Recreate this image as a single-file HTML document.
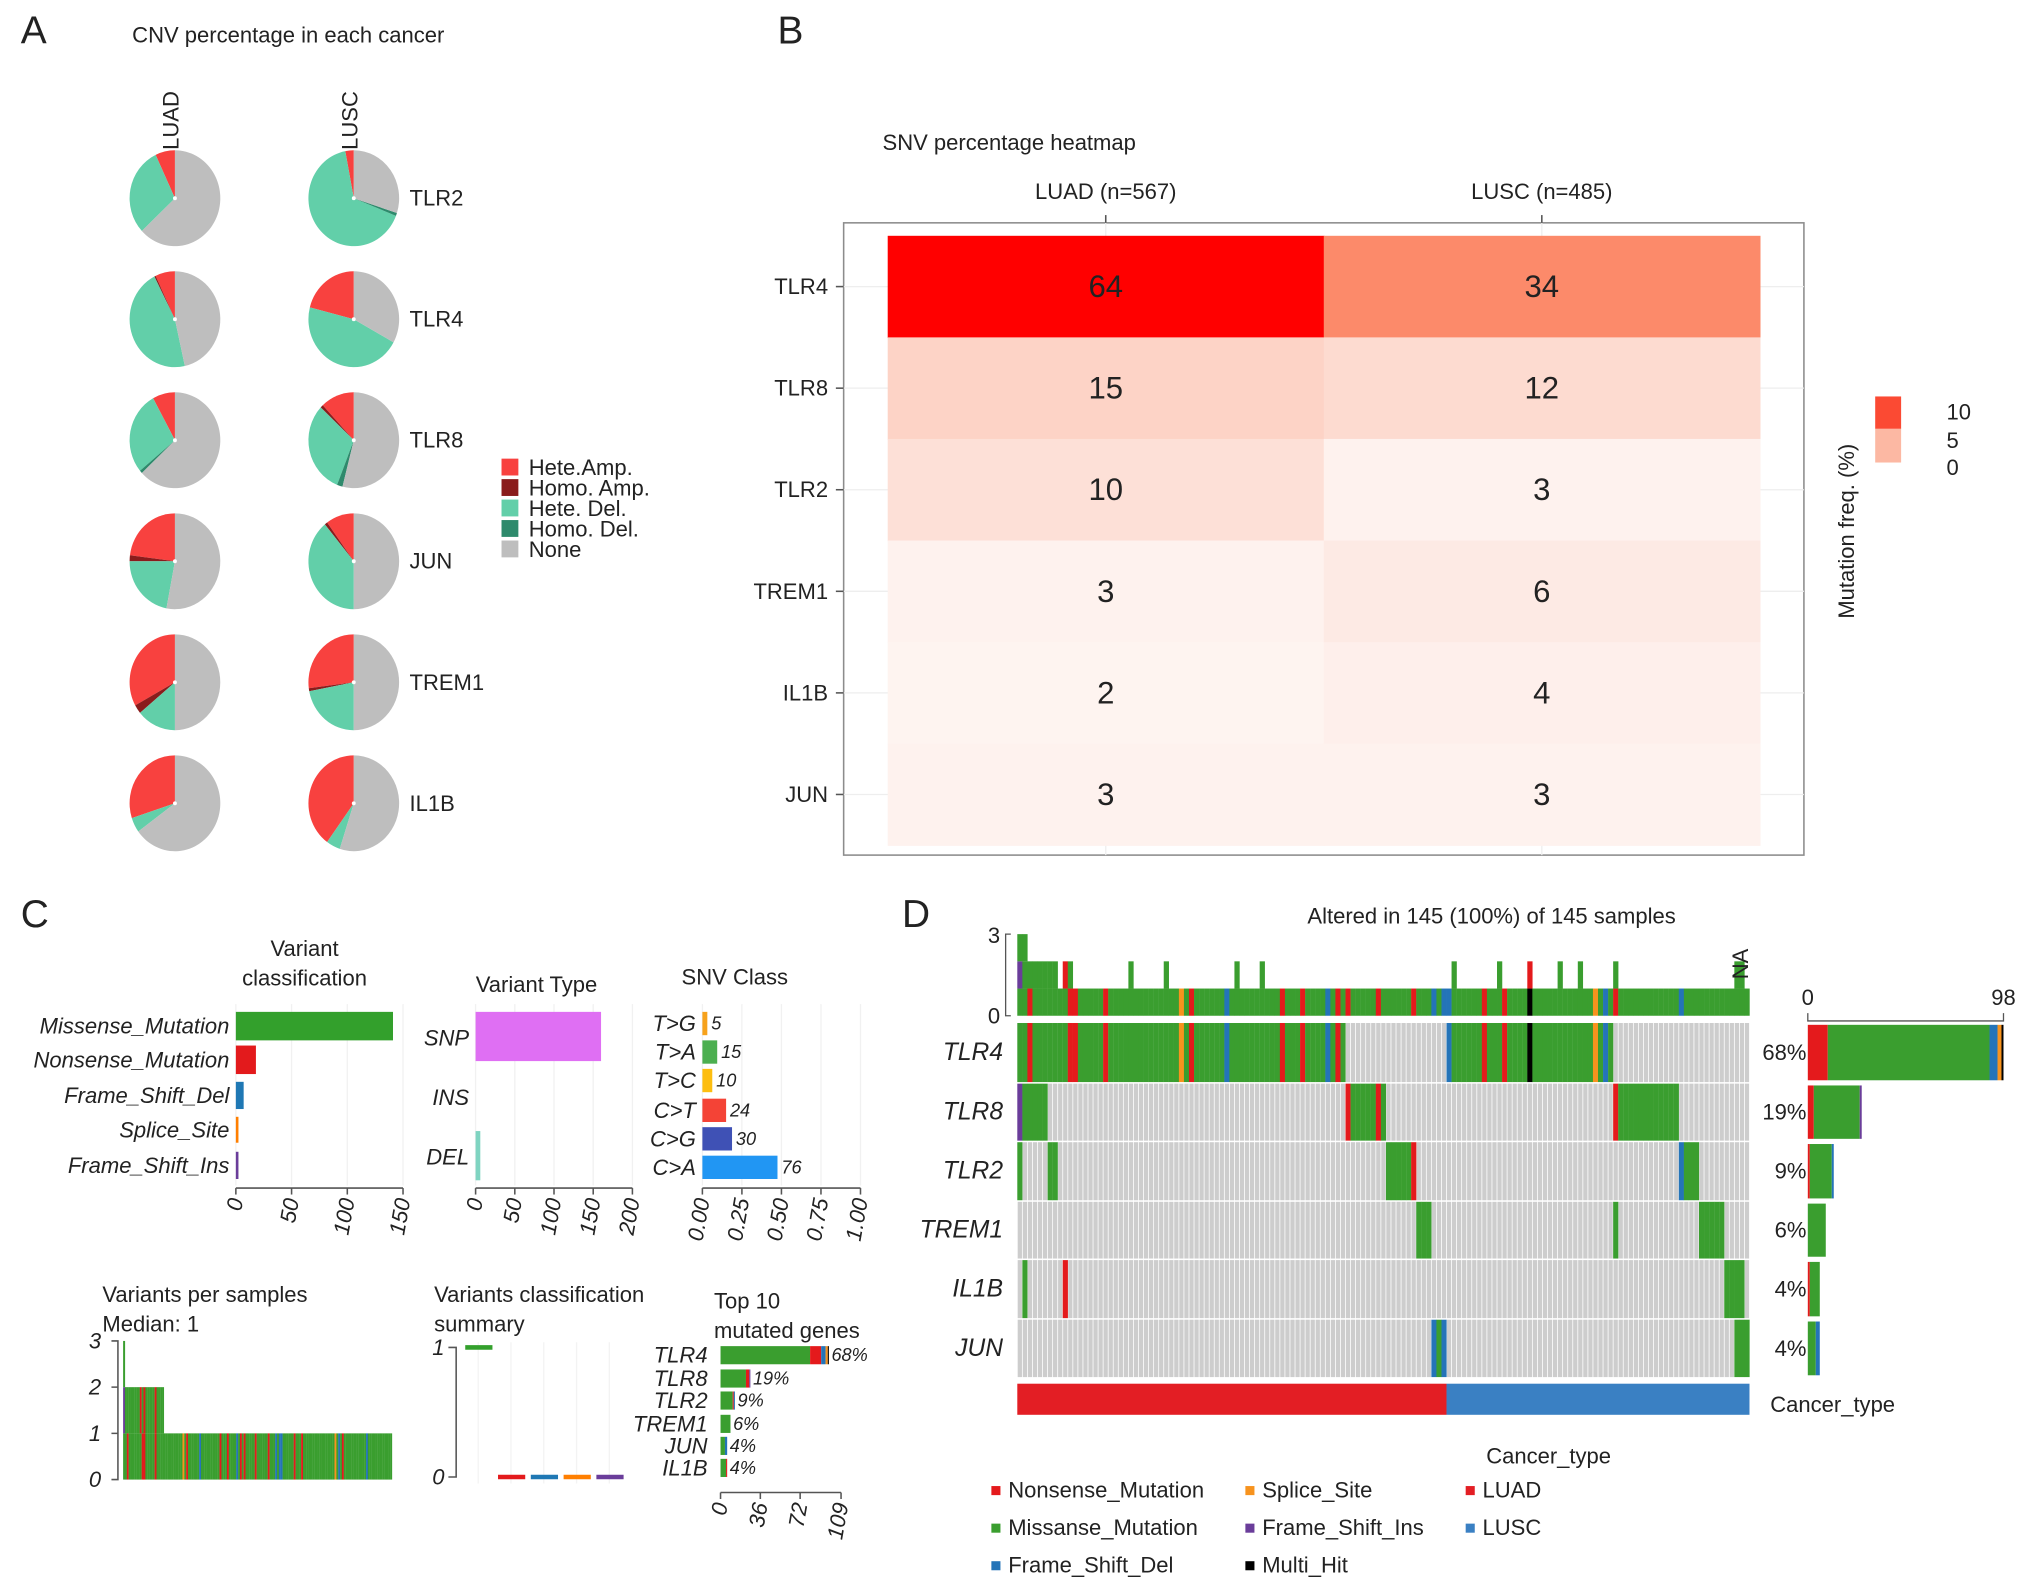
<!DOCTYPE html>
<html><head><meta charset="utf-8"><style>
html,body{margin:0;padding:0;background:#fff}
svg{display:block;font-family:"Liberation Sans",Arial,sans-serif}
</style></head><body>
<svg id="fig" xmlns="http://www.w3.org/2000/svg" width="2032" height="1591" viewBox="0 0 1568 1228" preserveAspectRatio="none">
<rect x="0" y="0" width="1568" height="1228" fill="#fff"/>
<g id="pA"></g>
<g id="pB"></g>
<g id="pC"></g>
<g id="pD"></g>
</svg>
<script>
// ---------- DATA ----------
const cnvGenes = ["TLR2","TLR4","TLR8","JUN","TREM1","IL1B"];
const cnvCancers = ["LUAD","LUSC"];
const cnvLUAD = [[0.07,0,0.30,0],[0.07,0.005,0.46,0],[0.08,0,0.28,0.01],[0.23,0.02,0.22,0],[0.33,0.03,0.14,0],[0.30,0,0.05,0]];
const cnvLUSC = [[0.03,0,0.66,0.01],[0.21,0,0.46,0],[0.12,0.01,0.31,0.02],[0.10,0.01,0.39,0],[0.27,0.01,0.22,0],[0.40,0,0.05,0]];
const cnvLegend = ["Hete.Amp.","Homo. Amp.","Hete. Del.","Homo. Del.","None"];
const snvGenes = ["TLR4","TLR8","TLR2","TREM1","IL1B","JUN"];
const snvCols = ["LUAD (n=567)","LUSC (n=485)"];
const snvLUAD = [64,15,10,3,2,3];
const snvLUSC = [34,12,3,6,4,3];
const snvLegendTicks = [10,5,0];
const vcLabels = ["Missense_Mutation","Nonsense_Mutation","Frame_Shift_Del","Splice_Site","Frame_Shift_Ins"];
const vcValues = [141,18,7,1.5,1.5];
const vcTicks = [0,50,100,150];
const vtLabels = ["SNP","INS","DEL"];
const vtValues = [160,0,6];
const vtTicks = [0,50,100,150,200];
const snvClassLabels = ["T>G","T>A","T>C","C>T","C>G","C>A"];
const snvClassCounts = [5,15,10,24,30,76];
const snvClassTicks = ["0.00","0.25","0.50","0.75","1.00"];
const topGeneTicks = [0,36,72,109];
const vpsHeights2Until = 22;
const oncoGenes = ["TLR4","TLR8","TLR2","TREM1","IL1B","JUN"];
const nSamples = 145;
const nLUAD = 85;
const mutTLR4 = [[0,64],[85,117]];
const mutTLR8 = [[0,5],[65,72],[118,130]];
const mutTLR2 = [[0,0],[6,7],[73,78],[131,134]];
const mutTREM1 = [[79,81],[118,118],[135,139]];
const mutIL1B = [[1,1],[9,9],[140,143]];
const mutJUN = [[82,84],[142,144]];
const overTLR4 = {2:"N",10:"N",11:"N",17:"N",32:"S",34:"N",41:"D",52:"N",56:"N",61:"D",63:"N",85:"D",92:"N",96:"N",101:"M",114:"S",116:"D"};
const overTLR8 = {0:"I",65:"N",71:"N",118:"N"};
const overTLR2 = {78:"N",131:"D"};
const overTREM1 = {};
const overIL1B = {9:"N"};
const overJUN = {82:"D",84:"D"};
const extraHits = {10:"G",22:"G",29:"G",43:"G",48:"G",86:"G",95:"G",101:"N",107:"G",111:"G"};

// ---------- HELPERS ----------
const NS="http://www.w3.org/2000/svg";
function el(parent,tag,attrs,txt){const e=document.createElementNS(NS,tag);for(const k in attrs)e.setAttribute(k,attrs[k]);if(txt!==undefined)e.textContent=txt;parent.appendChild(e);return e;}
const TXT="#222";
function label(p,x,y,s,size,opt){opt=opt||{};const t=el(p,"text",{x:x,y:y,"font-size":size,fill:opt.fill||TXT,"text-anchor":opt.anchor||"start","dominant-baseline":"central"},s);
if(opt.italic)t.setAttribute("font-style","italic");if(opt.rot!==undefined)t.setAttribute("transform","rotate("+opt.rot+" "+x+" "+y+")");return t;}

// ---------- PANEL A ----------
const pA=document.getElementById("pA");
const cnvColors=["#F8413F","#8A1C1C","#62CFA9","#2E8A6C","#BEBEBE"];
let t=label(pA,16,24,"A",30);


t=label(pA,102,27,"CNV percentage in each cancer",17);


const pieX=[135,273], pieY0=153, pieDY=93.4, rx=35, ry=37;
cnvCancers.forEach((c,ci)=>{
  t=label(pA,pieX[ci]-3,93,c,17,{anchor:"middle",rot:-90});
  
  
});
cnvGenes.forEach((g,gi)=>{
  const cy=pieY0+gi*pieDY;
  [cnvLUAD,cnvLUSC].forEach((arr,ci)=>{
    const cx=pieX[ci];
    const vals=arr[gi].slice(); const s=vals.reduce((a,b)=>a+b,0); vals.push(1-s);
    const grp=el(pA,"g",{});
    
    
    let a0=0;
    vals.forEach((v,vi)=>{
      if(v<=0)return;
      const a1=a0+v*2*Math.PI;
      const p0=[cx-rx*Math.sin(a0),cy-ry*Math.cos(a0)], p1=[cx-rx*Math.sin(a1),cy-ry*Math.cos(a1)];
      const large=(a1-a0)>Math.PI?1:0;
      const path=el(grp,"path",{d:`M${cx},${cy} L${p0[0]},${p0[1]} A${rx},${ry} 0 ${large} 0 ${p1[0]},${p1[1]} Z`,fill:cnvColors[vi]});
      
      
      a0=a1;
    });
    el(grp,"circle",{cx:cx,cy:cy,r:1.5,fill:"#fff"});
  });
  t=label(pA,316,cy,g,17);
  
  
});
cnvLegend.forEach((s,i)=>{
  const y=361+i*15.8;
  const r=el(pA,"rect",{x:387,y:y-7,width:13,height:13,fill:cnvColors[i]});
  
  
  t=label(pA,408,y,s,17);
  
  
});

// ---------- PANEL B ----------
const pB=document.getElementById("pB");
t=label(pB,600,24,"B",30);


t=label(pB,681,110,"SNV percentage heatmap",17);


const hb={x0:651,y0:172,x1:1392,y1:660};
const cellX0=685, cellW=336.5, cellY0=182, cellH=78.4;
function hx(ci){return cellX0+ci*cellW;}
function hy(ri){return cellY0+ri*cellH;}
const stops=[[0,[255,247,244]],[3,[254,242,238]],[6,[253,234,228]],[10,[253,224,215]],[15,[253,211,198]],[34,[252,138,106]],[64,[255,0,0]]];
function heatColor(v){for(let i=1;i<stops.length;i++){if(v<=stops[i][0]){const a=stops[i-1],b=stops[i];const f=(v-a[0])/(b[0]-a[0]);return "rgb("+a[1].map((c,k)=>Math.round(c+(b[1][k]-c)*f)).join(",")+")";}}return "rgb(255,0,0)";}
const box=el(pB,"rect",{x:hb.x0,y:hb.y0,width:hb.x1-hb.x0,height:hb.y1-hb.y0,fill:"#fff",stroke:"#8c8c8c","stroke-width":1.2});


snvGenes.forEach((g,ri)=>{el(pB,"line",{x1:hb.x0,x2:hb.x1,y1:hy(ri)+cellH/2,y2:hy(ri)+cellH/2,stroke:"#eeeeee","stroke-width":1});});
snvCols.forEach((c,ci)=>{el(pB,"line",{x1:hx(ci)+cellW/2,x2:hx(ci)+cellW/2,y1:hb.y0,y2:hb.y1,stroke:"#eeeeee","stroke-width":1});});
[snvLUAD,snvLUSC].forEach((arr,ci)=>{
  arr.forEach((v,ri)=>{
    const r=el(pB,"rect",{x:hx(ci),y:hy(ri),width:cellW+0.5,height:cellH+0.5,fill:heatColor(v)});
    
    
    t=label(pB,hx(ci)+cellW/2,hy(ri)+cellH/2,String(v),24,{anchor:"middle"});
    
    
  });
});
snvCols.forEach((c,ci)=>{
  const x=hx(ci)+cellW/2;
  el(pB,"line",{x1:x,x2:x,y1:hb.y0-6,y2:hb.y0,stroke:"#555","stroke-width":1.2});
  t=label(pB,x,148,c,17,{anchor:"middle"});
  
  
});
snvGenes.forEach((g,ri)=>{
  const y=hy(ri)+cellH/2;
  el(pB,"line",{x1:hb.x0-6,x2:hb.x0,y1:y,y2:y,stroke:"#555","stroke-width":1.2});
  t=label(pB,hb.x0-12,y,g,17,{anchor:"end"});
  
  
});
t=label(pB,1425,410,"Mutation freq. (%)",17,{anchor:"middle",rot:-90});


const lgr1=el(pB,"rect",{x:1447,y:306,width:20,height:25,fill:"#FB4A33"});


const lgr2=el(pB,"rect",{x:1447,y:331,width:20,height:26,fill:"#FCB8A3"});


snvLegendTicks.forEach(v=>{
  t=label(pB,1502,v===10?318:(v===5?340:361),String(v),17);
  
  
});

// ---------- PANEL D ----------
const colMap={G:"#3A9E2F",N:"#E41A1C",D:"#2474B8",S:"#F7931E",I:"#6A3D9A",M:"#000000"};
const geneRanges=[mutTLR4,mutTLR8,mutTLR2,mutTREM1,mutIL1B,mutJUN];
const geneOver=[overTLR4,overTLR8,overTLR2,overTREM1,overIL1B,overJUN];
const matrix=oncoGenes.map((g,gi)=>{const row=new Array(nSamples).fill(null);geneRanges[gi].forEach(r=>{for(let s=r[0];s<=r[1];s++)row[s]="G";});for(const k in geneOver[gi]){row[+k]=geneOver[gi][k];}return row;});
const sampleStacks=[];for(let s=0;s<nSamples;s++){const st=[];matrix.forEach(row=>{if(row[s])st.push(row[s]);});if(extraHits[s]!==undefined)st.push(extraHits[s]);sampleStacks.push(st);}
const geneCounts=matrix.map(row=>{const c={};row.forEach(v=>{if(v)c[v]=(c[v]||0)+1;});return c;});
const geneTotals=matrix.map(row=>row.filter(v=>v).length);

const pD=document.getElementById("pD");
t=label(pD,696,706,"D",30);


t=label(pD,1151,707,"Altered in 145 (100%) of 145 samples",17,{anchor:"middle"});


const mx0=785,mx1=1350,cw=(mx1-mx0)/nSamples;
const rowY=[789,835.8,881,927,972,1018,1063.5];
function sx(s){return mx0+s*cw;}
const tb0=784,tb3=721;function tby(v){return tb0-(v/3)*(tb0-tb3);}
el(pD,"path",{d:`M${mx0-5},${tb3} H${mx0-9} V${tb0} H${mx0-5}`,fill:"none",stroke:"#555","stroke-width":1});
t=label(pD,767,722,"3",17,{anchor:"middle"});


t=label(pD,767,784,"0",17,{anchor:"middle"});


sampleStacks.forEach((st,s)=>{
  const n=Math.min(st.length,3);
  for(let k=0;k<n;k++){
    const r=el(pD,"rect",{x:sx(s),y:tby(k+1),width:cw+0.15,height:tby(k)-tby(k+1),fill:colMap[st[k]]});
    
    
  }
});
t=label(pD,1343,744,"NA",17,{anchor:"middle",rot:-90});


oncoGenes.forEach((g,gi)=>{
  const y0=rowY[gi]+0.6,h=rowY[gi+1]-rowY[gi]-1.2;
  for(let s=0;s<nSamples;s++){
    const v=matrix[gi][s];
    const r=el(pD,"rect",{x:sx(s)+(v?0:0.3),y:y0,width:v?cw+0.1:cw-0.6,height:h,fill:v?colMap[v]:"#CDCDCD"});
    
    
  }
  t=label(pD,774,(rowY[gi]+rowY[gi+1])/2,g,19,{anchor:"end",italic:true});
  
  
  t=label(pD,1394,(rowY[gi]+rowY[gi+1])/2,Math.round(geneTotals[gi]/nSamples*100)+"%",17,{anchor:"end"});
  
  
});
const ctL=el(pD,"rect",{x:mx0,y:1068,width:nLUAD*cw,height:24,fill:"#E31E24"});


const ctS=el(pD,"rect",{x:sx(nLUAD),y:1068,width:(nSamples-nLUAD)*cw,height:24,fill:"#3A80C3"});


t=label(pD,1366,1084,"Cancer_type",17);


const rb0=1395,rb1=1546;function rbx(v){return rb0+(v/98)*(rb1-rb0);}
el(pD,"path",{d:`M${rb0},782 V788 H${rb1} V782`,fill:"none",stroke:"#555","stroke-width":1});
t=label(pD,rb0,770,"0",17,{anchor:"middle"});


t=label(pD,rb1,770,"98",17,{anchor:"middle"});


const stackOrder=["N","G","D","S","I","M"];
oncoGenes.forEach((g,gi)=>{
  let acc=0;const y0=rowY[gi]+2,h=rowY[gi+1]-rowY[gi]-4;
  stackOrder.forEach(k=>{const v=geneCounts[gi][k]||0;if(!v)return;
    const r=el(pD,"rect",{x:rbx(acc),y:y0,width:rbx(acc+v)-rbx(acc),height:h,fill:colMap[k]});
    
    
    acc+=v;});
});
t=label(pD,1195,1124,"Cancer_type",17,{anchor:"middle"});


const legItems=[[768,1150,"N","Nonsense_Mutation"],[768,1179,"G","Missanse_Mutation"],[768,1208,"D","Frame_Shift_Del"],[964,1150,"S","Splice_Site"],[964,1179,"I","Frame_Shift_Ins"],[964,1208,"M","Multi_Hit"],[1134,1150,"LUAD","LUAD"],[1134,1179,"LUSC","LUSC"]];
legItems.forEach(it=>{
  const c=it[2]==="LUAD"?"#E31E24":(it[2]==="LUSC"?"#3A80C3":colMap[it[2]]);
  const r=el(pD,"rect",{x:it[0]-3,y:it[1]-3,width:7,height:7,fill:c});
  
  
  t=label(pD,it[0]+10,it[1],it[3],17);
  
  
});

// ---------- PANEL C ----------
const pC=document.getElementById("pC");
t=label(pC,16,706,"C",30);


function hbarChart(opt){
  const g=el(pC,"g",{});
  
  
  const X=v=>opt.x0+(v-opt.min)/(opt.max-opt.min)*(opt.x1-opt.x0);
  opt.ticks.forEach((tv,i)=>{const x=X(+tv);el(g,"line",{x1:x,x2:x,y1:opt.gTop,y2:opt.axisY-2,stroke:"#f1f1f1","stroke-width":1});});
  opt.values.forEach((v,i)=>{
    const r=el(g,"rect",{x:X(0),y:opt.bars[i][0],width:Math.max(X(v)-X(0),v>0?2:0),height:opt.bars[i][1]-opt.bars[i][0],fill:opt.colors[i]});
    
    
    const tl=label(g,opt.x0-5,opt.labY?opt.labY[i]:(opt.bars[i][0]+opt.bars[i][1])/2,opt.labels[i],17,{anchor:"end",italic:true});
    
    
    if(opt.valLabels){const vl=label(g,X(v)+3,(opt.bars[i][0]+opt.bars[i][1])/2,opt.valLabels[i],14,{italic:true});
      
      }
  });
  el(g,"line",{x1:X(opt.min),x2:X(opt.max),y1:opt.axisY,y2:opt.axisY,stroke:"#555","stroke-width":1.2});
  opt.ticks.forEach((tv,i)=>{const x=X(+tv);el(g,"line",{x1:x,x2:x,y1:opt.axisY,y2:opt.axisY+5,stroke:"#555","stroke-width":1.2});
    const tl=label(g,x,opt.axisY+8,String(tv),17,{anchor:"end",italic:true,rot:-80});
    
    });
}
t=label(pC,235,732,"Variant",17,{anchor:"middle"});


label(pC,235,755,"classification",17,{anchor:"middle"});
hbarChart({name:"variant-classification-chart",x0:182,x1:311,min:0,max:150,gTop:775,axisY:917,ticks:vcTicks,values:vcValues,labels:vcLabels,
  bars:[[781,803],[807,829],[835,856],[862,882],[889,910]],colors:["#33A02C","#E31A1C","#1F78B4","#FF7F00","#6A3D9A"]});
t=label(pC,414,760,"Variant Type",17,{anchor:"middle"});


hbarChart({name:"variant-type-chart",x0:367,x1:488,min:0,max:200,gTop:775,axisY:917,ticks:vtTicks,values:vtValues,labels:vtLabels,
  bars:[[781,819],[835,860],[873,911]],labY:[801,847,893],colors:["#DF6FF3","#F5F5B0","#7FD4C1"]});
t=label(pC,567,754,"SNV Class",17,{anchor:"middle"});


const snvTotal=snvClassCounts.reduce((a,b)=>a+b,0);
hbarChart({name:"snv-class-chart",x0:542,x1:664,min:0,max:1,gTop:775,axisY:917,ticks:snvClassTicks,values:snvClassCounts.map(v=>v/snvTotal),labels:snvClassLabels,
  bars:[[781,799],[803,821],[825,843],[848,866],[870,888],[892,910]],valLabels:snvClassCounts.map(String),
  colors:["#F7A21B","#4CAF50","#FDBE10","#F44336","#3F51B5","#2196F3"]});

t=label(pC,79,999,"Variants per samples",17);


label(pC,79,1022,"Median: 1",17);
const vpsY=v=>1142-v*(1142-1035)/3;
el(pC,"path",{d:`M86,${vpsY(3)} H91 V${vpsY(0)} H86 M86,${vpsY(1)} H91 M86,${vpsY(2)} H91`,fill:"none",stroke:"#555","stroke-width":1.2});
[0,1,2,3].forEach(v=>{t=label(pC,78,vpsY(v),String(v),17,{anchor:"end",italic:true});
  
  });
const vx0=95,vx1=302.5,vw=(vx1-vx0)/nSamples;
sampleStacks.forEach((st,s)=>{
  const n=s===0?3:(s<vpsHeights2Until?2:1);
  for(let k=0;k<n;k++){const c=st[k]||st[0]||"G";
    const r=el(pC,"rect",{x:vx0+s*vw,y:vpsY(k+1),width:vw+0.1,height:vpsY(k)-vpsY(k+1),fill:colMap[c==="M"?"G":c]});
    
    }
});
t=label(pC,335,999,"Variants classification",17);


label(pC,335,1022,"summary",17);
const vsY=v=>1140-v*100;
el(pC,"path",{d:`M346,${vsY(1)} H352 V${vsY(0)} H346`,fill:"none",stroke:"#555","stroke-width":1.2});
[0,1].forEach(v=>{t=label(pC,343,vsY(v),String(v),17,{anchor:"end",italic:true});
  
  });
const vsMed=[1,0,0,0,0];const vsCol=["#33A02C","#E31A1C","#1F78B4","#FF7F00","#6A3D9A"];
vsMed.forEach((m,i)=>{const x=359+i*25.3;
  el(pC,"line",{x1:x+10,x2:x+10,y1:1036,y2:1145,stroke:"#f3f3f3","stroke-width":1});
  const l=el(pC,"line",{x1:x,x2:x+21,y1:vsY(m),y2:vsY(m),stroke:vsCol[i],"stroke-width":3.5});
  
  });
t=label(pC,551,1004,"Top 10",17);


label(pC,551,1027,"mutated genes",17);
const tgOrder=[0,1,2,3,5,4];const tgY=[1046,1064,1081,1099,1116,1133];
const tgX=v=>556+v/109*(649-556);
tgOrder.forEach((gi,i)=>{let acc=0;
  ["G","N","D","S","I","M"].forEach(k=>{const v=geneCounts[gi][k]||0;if(!v)return;
    const r=el(pC,"rect",{x:tgX(acc),y:tgY[i]-7,width:tgX(acc+v)-tgX(acc),height:14,fill:colMap[k]});
    
    acc+=v;});
  t=label(pC,546,tgY[i],oncoGenes[gi],17,{anchor:"end",italic:true});
  
  
  t=label(pC,tgX(acc)+2,tgY[i],Math.round(geneTotals[gi]/nSamples*100)+"%",14,{italic:true});
  
  
});
el(pC,"line",{x1:556,x2:649,y1:1152,y2:1152,stroke:"#555","stroke-width":1.2});
topGeneTicks.forEach(v=>{const x=tgX(v);el(pC,"line",{x1:x,x2:x,y1:1152,y2:1157,stroke:"#555","stroke-width":1.2});
  t=label(pC,x,1160,String(v),17,{anchor:"end",italic:true,rot:-80});
  
  });
</script>
</body></html>
